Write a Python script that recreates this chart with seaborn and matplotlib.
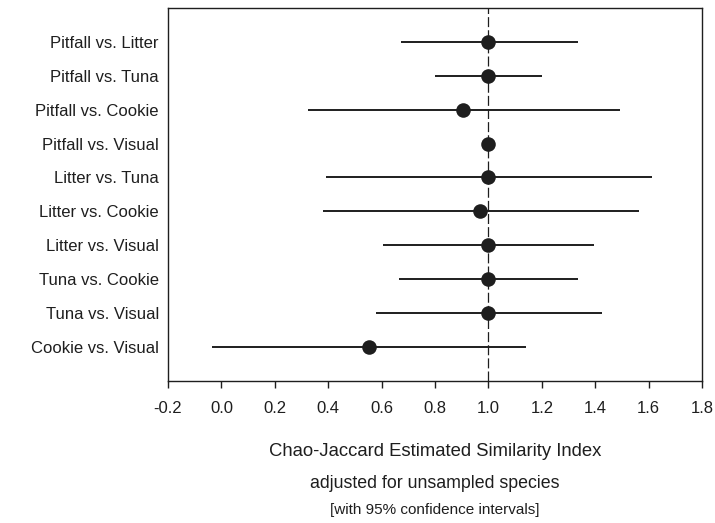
import numpy as np
import pandas as pd
import matplotlib.pyplot as plt
import seaborn as sns

# ---------------- DATA ----------------
pairs = ["Pitfall vs. Litter", "Pitfall vs. Tuna", "Pitfall vs. Cookie",
         "Pitfall vs. Visual", "Litter vs. Tuna", "Litter vs. Cookie",
         "Litter vs. Visual", "Tuna vs. Cookie", "Tuna vs. Visual",
         "Cookie vs. Visual"]
estimate = [1.0, 1.0, 0.906, 1.0, 1.0, 0.969, 1.0, 1.0, 1.0, 0.552]
ci_low = [0.671, 0.800, 0.325, 1.0, 0.393, 0.382, 0.606, 0.665, 0.579, -0.036]
ci_high = [1.335, 1.202, 1.494, 1.0, 1.611, 1.562, 1.394, 1.337, 1.424, 1.142]
xticks = [-0.2, 0.0, 0.2, 0.4, 0.6, 0.8, 1.0, 1.2, 1.4, 1.6, 1.8]

df = pd.DataFrame({"pair": pairs, "est": estimate, "lo": ci_low, "hi": ci_high})
df["row"] = np.arange(len(df))

# ---------------- STYLE ----------------
sns.set_theme(style="white")
plt.rcParams["font.family"] = ["Liberation Sans", "DejaVu Sans"]
ink = "#1e1e1e"

fig = plt.figure(figsize=(7.15, 5.23), dpi=100)
ax = fig.add_axes([0.235, 0.2715, 0.747, 0.7135])

# CI lines then points
ax.hlines(df["row"], df["lo"], df["hi"], color=ink, linewidth=1.4, zorder=2)
sns.scatterplot(data=df, x="est", y="row", ax=ax, s=110, color=ink,
                edgecolor=ink, linewidth=0, zorder=3, legend=False)
ax.axvline(1.0, color=ink, linewidth=0.9, linestyle=(0, (8, 2.5)), zorder=1)

ax.set_xlim(-0.2, 1.8)
ax.set_ylim(len(df), -1)
ax.set_xticks(xticks)
ax.set_xticklabels([f"{t:.1f}" for t in xticks], fontsize=12, color=ink)
ax.set_yticks(df["row"])
ax.set_yticklabels(df["pair"], fontsize=12, color=ink)
ax.tick_params(axis="x", direction="out", length=5, width=1, color=ink, pad=9.5, bottom=True)
ax.tick_params(axis="y", length=0, pad=6.5)
for sp in ax.spines.values():
    sp.set_color(ink)
    sp.set_linewidth(1.0)

ax.set_xlabel("")
ax.set_ylabel("")

# three-line x caption, centred under the axes
cx = 0.235 + 0.747 / 2
fig.text(cx, 1 - 452 / 523, "Chao-Jaccard Estimated Similarity Index",
         ha="center", va="center", fontsize=13.3, color=ink)
fig.text(cx, 1 - 483 / 523, "adjusted for unsampled species",
         ha="center", va="center", fontsize=12.8, color=ink)
fig.text(cx, 1 - 510 / 523, "[with 95% confidence intervals]",
         ha="center", va="center", fontsize=11, color=ink)

fig.savefig("out.png", dpi=100)
